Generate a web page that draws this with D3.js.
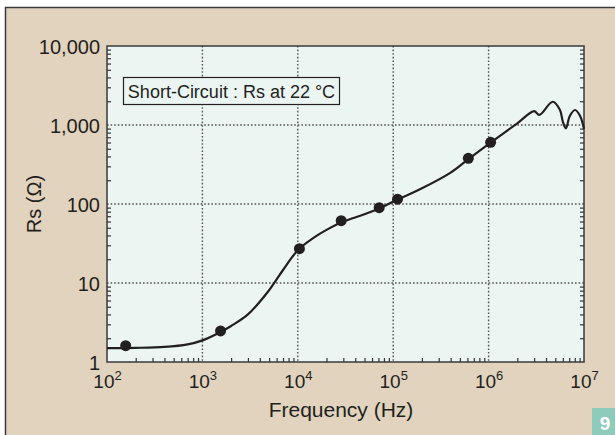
<!DOCTYPE html>
<html>
<head>
<meta charset="utf-8">
<script src="https://cdn.jsdelivr.net/npm/d3@7"></script>
<style>
  html, body { margin: 0; padding: 0; background: #ffffff; }
  svg { display: block; }
  text { font-family: "Liberation Sans", Arial, Helvetica, sans-serif; fill: #231f20; }
</style>
</head>
<body>
<svg id="chart" width="615" height="435"></svg>
<script>
// ---------- data ----------
const xMajorExponents = [2, 3, 4, 5, 6, 7];
const yMajorTicks = [1, 10, 100, 1000, 10000];
const legendLabel = "Short-Circuit : Rs at 22 °C";
const xTitle = "Frequency (Hz)";
const yTitle = "Rs (Ω)";
const figureNumber = "9";

// smooth fitted curve (Hz, Ω)
const curveFreq = [100, 200, 400, 700, 1000, 1500, 2000, 3000, 5000, 7000, 10000, 15000, 20000, 30000, 50000, 70000, 110000, 200000, 400000, 613000, 1050000, 2000000, 3000000, 3400000, 4700000, 5600000, 6000000, 6460000, 7100000, 8050000, 9100000, 10000000];
const curveRs   = [1.50, 1.51, 1.55, 1.67, 1.88, 2.35, 2.86, 4.0, 8.1, 14.6, 26, 38, 47, 60, 74, 87, 113, 158, 250, 370, 600, 1050, 1500, 1340, 1970, 1550, 1100, 908, 1300, 1549, 1300, 890];

// measured points
const markerFreq = [157, 1550, 10400, 28500, 71300, 111000, 613000, 1050000];
const markerRs   = [1.61, 2.47, 27.2, 61.5, 89.8, 115, 379, 604];

// ---------- layout ----------
const W = 615, H = 435;
const plot = { left: 107, right: 584, top: 46, bottom: 362 };

const svg = d3.select("#chart");

// outer frame
svg.append("rect")
  .attr("x", 5.5).attr("y", 7.5)
  .attr("width", W + 10).attr("height", H + 10)
  .attr("fill", "#e1d3bd")
  .attr("stroke", "#3a3a3a").attr("stroke-width", 1.5);

const x = d3.scaleLog().domain([1e2, 1e7]).range([plot.left, plot.right]);
const y = d3.scaleLog().domain([1, 1e4]).range([plot.bottom, plot.top]);

// plot background
svg.append("rect")
  .attr("x", plot.left).attr("y", plot.top)
  .attr("width", plot.right - plot.left).attr("height", plot.bottom - plot.top)
  .attr("fill", "#ebf5f1");

// minor tick values
const xMinor = [];
for (let e = 2; e < 7; e++) for (let m = 2; m <= 9; m++) xMinor.push(m * Math.pow(10, e));
const yMinor = [];
for (let e = 0; e < 4; e++) for (let m = 2; m <= 9; m++) yMinor.push(m * Math.pow(10, e));

// gridlines
const xGridVals = xMajorExponents.slice(1, -1).map(e => Math.pow(10, e));
const yGridVals = yMajorTicks.slice(1, -1);
const grid = svg.append("g").attr("stroke", "#555").attr("stroke-width", 1.4).attr("stroke-dasharray", "1.6,2");
grid.selectAll("line.vx").data(xGridVals).join("line")
  .attr("x1", d => x(d)).attr("x2", d => x(d))
  .attr("y1", plot.top).attr("y2", plot.bottom);
grid.selectAll("line.hy").data(yGridVals).join("line")
  .attr("x1", plot.left).attr("x2", plot.right)
  .attr("y1", d => y(d)).attr("y2", d => y(d));

// minor ticks (inward)
function styleAxis(g) {
  g.select(".domain").remove();
  g.selectAll(".tick line").attr("stroke", "#333").attr("stroke-width", 1.2);
}
svg.append("g").attr("transform", `translate(${plot.left},0)`)
  .call(d3.axisLeft(y).tickValues(yMinor).tickSize(-4).tickFormat(""))
  .call(styleAxis);
svg.append("g").attr("transform", `translate(${plot.right},0)`)
  .call(d3.axisRight(y).tickValues(yMinor).tickSize(-4).tickFormat(""))
  .call(styleAxis);
svg.append("g").attr("transform", `translate(0,${plot.bottom})`)
  .call(d3.axisBottom(x).tickValues(xMinor).tickSize(-4).tickFormat(""))
  .call(styleAxis);

// plot border
svg.append("rect")
  .attr("x", plot.left).attr("y", plot.top)
  .attr("width", plot.right - plot.left).attr("height", plot.bottom - plot.top)
  .attr("fill", "none").attr("stroke", "#3a3a3a").attr("stroke-width", 1.5);

// Y major labels
const yAx = svg.append("g").attr("transform", `translate(${plot.left},0)`)
  .call(d3.axisLeft(y).tickValues(yMajorTicks).tickSize(0).tickPadding(7).tickFormat(d3.format(",")));
yAx.select(".domain").remove();
yAx.selectAll(".tick text")
  .attr("font-size", 20).attr("fill", "#231f20")
  .attr("font-family", "Liberation Sans, Arial, sans-serif")
  .attr("dy", "0.36em");

// X major labels with superscript
const xAx = svg.append("g").attr("transform", `translate(0,${plot.bottom})`)
  .call(d3.axisBottom(x).tickValues(xMajorExponents.map(e => Math.pow(10, e))).tickSize(0).tickFormat(""));
xAx.select(".domain").remove();
xAx.selectAll(".tick").each(function(d) {
  const t = d3.select(this).select("text")
    .attr("y", 26).attr("dy", 0)
    .attr("font-size", 19).attr("fill", "#231f20")
    .attr("font-family", "Liberation Sans, Arial, sans-serif")
    .attr("text-anchor", "middle");
  t.text(null);
  t.append("tspan").text("10");
  t.append("tspan").attr("font-size", 13).attr("dy", -8).text(String(Math.round(Math.log10(d))));
});

// axis titles
svg.append("text")
  .attr("x", 341).attr("y", 417)
  .attr("text-anchor", "middle").attr("font-size", 21)
  .text(xTitle);
svg.append("text")
  .attr("transform", `translate(41,${(plot.top + plot.bottom) / 2}) rotate(-90)`)
  .attr("text-anchor", "middle").attr("font-size", 20)
  .text(yTitle);

// curve
const line = d3.line()
  .x((d, i) => x(curveFreq[i]))
  .y((d, i) => y(curveRs[i]))
  .curve(d3.curveCatmullRom.alpha(0.5));
svg.append("path")
  .attr("d", line(curveFreq))
  .attr("fill", "none").attr("stroke", "#231f20").attr("stroke-width", 2.2)
  .attr("stroke-linejoin", "round");

// markers
svg.append("g").selectAll("circle").data(markerFreq).join("circle")
  .attr("cx", d => x(d))
  .attr("cy", (d, i) => y(markerRs[i]))
  .attr("r", 5.5)
  .attr("fill", "#231f20");

// legend box
const lg = svg.append("g");
lg.append("rect")
  .attr("x", 123.5).attr("y", 77.5).attr("width", 216).attr("height", 27)
  .attr("fill", "#ebf5f1").attr("stroke", "#231f20").attr("stroke-width", 1.2);
lg.append("text")
  .attr("x", 231.5).attr("y", 97.5).attr("text-anchor", "middle")
  .attr("font-size", 18)
  .text(legendLabel);

// figure number badge
svg.append("rect")
  .attr("x", 592).attr("y", 408).attr("width", 23).attr("height", 27)
  .attr("fill", "#8ecbbb");
svg.append("text")
  .attr("x", 605).attr("y", 430).attr("text-anchor", "middle")
  .attr("font-size", 19).attr("font-weight", "bold")
  .style("fill", "#ffffff")
  .text(figureNumber);
</script>
</body>
</html>
